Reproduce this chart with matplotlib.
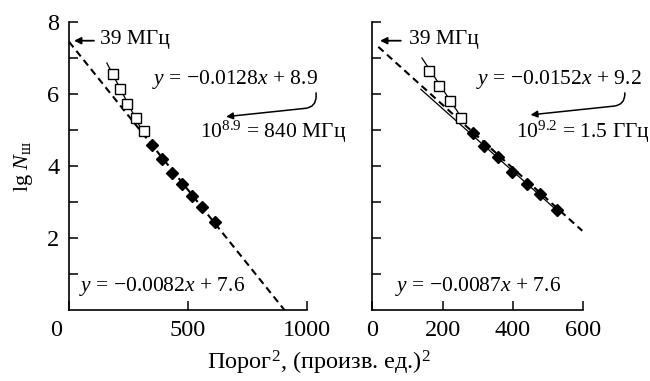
import matplotlib
matplotlib.use("Agg")
import matplotlib.pyplot as plt
from matplotlib.ticker import FixedLocator
from matplotlib.transforms import ScaledTranslation

plt.rcParams['font.family'] = ['Liberation Serif', 'DejaVu Serif']
plt.rcParams['mathtext.fontset'] = 'custom'
plt.rcParams['mathtext.rm'] = 'Liberation Serif'
plt.rcParams['mathtext.it'] = 'Liberation Serif:italic'
plt.rcParams['mathtext.bf'] = 'Liberation Serif:bold'

# ---- data (left panel) ----
L_open_x = [185, 213, 243, 282, 314]
L_open_y = [6.56, 6.14, 5.72, 5.33, 4.97]
L_fill_x = [349, 390, 431, 473, 517, 559, 615]
L_fill_y = [4.58, 4.20, 3.81, 3.51, 3.17, 2.87, 2.44]
L_dash_x = [0, 905]
L_dash_y = [7.45, 0.0]
L_fit_x = [159, 316]
L_fit_y = [6.86, 4.86]

# ---- data (right panel) ----
R_open_x = [162, 190, 222, 252]
R_open_y = [6.65, 6.22, 5.81, 5.33]
R_fill_x = [285, 318, 358, 396, 439, 477, 524]
R_fill_y = [4.93, 4.56, 4.24, 3.84, 3.51, 3.22, 2.78]
R_dash_x = [17, 597]
R_dash_y = [7.31, 2.20]
R_fit_x = [141, 252]
R_fit_y = [7.00, 5.37]
R_fit2_x = [138, 530]
R_fit2_y = [6.13, 2.72]

L_xticks = [0, 500, 1000]
R_xticks = [0, 200, 400, 600]
yticks = [2, 4, 6, 8]

fig = plt.figure(figsize=(6.5, 3.81), dpi=100)
axL = fig.add_axes([0.1062, 0.1864, 0.3662, 0.7559])
axR = fig.add_axes([0.5728, 0.1864, 0.3246, 0.7559])

FS_TICK = 17.5
FS_TXT = 15.5

for ax, xt, xmax in [(axL, L_xticks, 1000), (axR, R_xticks, 600)]:
    ax.set_xlim(0, xmax)
    ax.set_ylim(0, 8)
    for s in ['top', 'right']:
        ax.spines[s].set_visible(False)
    for s in ['left', 'bottom']:
        ax.spines[s].set_linewidth(1.2)
    ax.set_xticks(xt)
    ax.set_xticklabels([str(v) for v in xt])
    ax.set_yticks(yticks)
    ax.yaxis.set_minor_locator(FixedLocator([1, 3, 5, 7]))
    ax.tick_params(which='both', direction='in', length=6.5, width=1.1,
                   labelsize=FS_TICK, pad=7)
    ax.patch.set_alpha(0)

axR.set_yticklabels([])
# shift the left "0" label
lbl0 = axL.get_xticklabels()[0]
lbl0.set_transform(lbl0.get_transform() + ScaledTranslation(-0.13, 0, fig.dpi_scale_trans))

dash_kw = dict(color='black', lw=1.5, linestyle=(0, (3.4, 2.2)))
thin_kw = dict(color='black', lw=0.9)
open_kw = dict(linestyle='none', marker='s', ms=6.6, mfc='white', mec='black', mew=1.0)
fill_kw = dict(linestyle='none', marker='D', ms=6.0, mfc='black', mec='black')

# left
axL.plot(L_dash_x, L_dash_y, **dash_kw)
axL.plot(L_fit_x, L_fit_y, **thin_kw)
axL.plot(L_open_x, L_open_y, **open_kw)
axL.plot(L_fill_x, L_fill_y, **fill_kw)

# right
axR.plot(R_dash_x, R_dash_y, **dash_kw)
axR.plot(R_fit2_x, R_fit2_y, **thin_kw)
axR.plot(R_fit_x, R_fit_y, **thin_kw)
axR.plot(R_open_x, R_open_y, **open_kw)
axR.plot(R_fill_x, R_fill_y, **fill_kw)

arrow_kw = dict(arrowstyle='-|>', color='black', lw=1.3, mutation_scale=10,
                shrinkA=0, shrinkB=0)
curve_kw = dict(arrow_kw, lw=1.1, connectionstyle='angle,angleA=90,angleB=6,rad=11')

# left annotations
axL.annotate('', xy=(21, 7.48), xytext=(105, 7.48), arrowprops=arrow_kw, annotation_clip=False)
axL.text(130, 7.5, '39 МГц', fontsize=FS_TXT, va='center', ha='left')
axL.text(347, 6.39, r'$y$ = −0.0128$x$ + 8.9', fontsize=FS_TXT, va='center', ha='left', clip_on=False)
axL.text(552, 4.94, r'10$^{8.9}$ = 840 МГц', fontsize=FS_TXT, va='center', ha='left', clip_on=False)
axL.text(42, 0.64, r'$y$ = −0.0082$x$ + 7.6', fontsize=FS_TXT, va='center', ha='left')
axL.annotate('', xy=(660, 5.37), xytext=(1038, 6.03), arrowprops=curve_kw,
             annotation_clip=False)

# right annotations
axR.annotate('', xy=(22, 7.48), xytext=(81, 7.48), arrowprops=arrow_kw, annotation_clip=False)
axR.text(104, 7.5, '39 МГц', fontsize=FS_TXT, va='center', ha='left')
axR.text(295, 6.39, r'$y$ = −0.0152$x$ + 9.2', fontsize=FS_TXT, va='center', ha='left', clip_on=False)
axR.text(409, 4.94, r'10$^{9.2}$ = 1.5 ГГц', fontsize=FS_TXT, va='center', ha='left', clip_on=False)
axR.text(64, 0.65, r'$y$ = −0.0087$x$ + 7.6', fontsize=FS_TXT, va='center', ha='left')
axR.annotate('', xy=(450, 5.42), xytext=(718, 6.03), arrowprops=curve_kw,
             annotation_clip=False)

axL.set_ylabel(r'lg $N_{\mathrm{ш}}$', fontsize=16, labelpad=9)
fig.text(0.49, 0.048, r'Порог$^2$, (произв. ед.)$^2$', fontsize=17.5, ha='center', va='center')

fig.savefig('out.png', dpi=100)
